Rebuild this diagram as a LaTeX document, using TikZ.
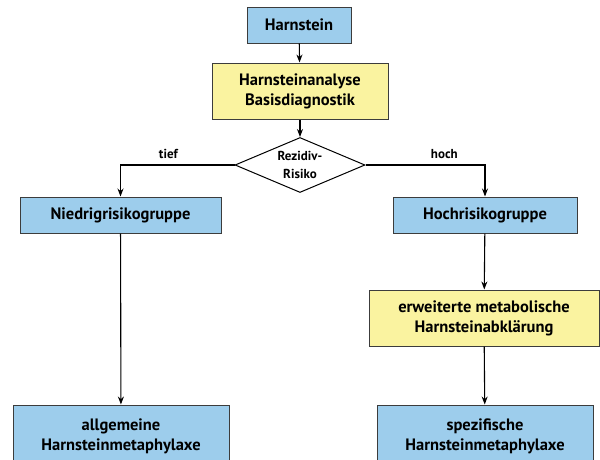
\documentclass[tikz,border=0pt]{standalone}
\usepackage{fontspec}
\setmainfont{PT Sans}
\usetikzlibrary{shapes.geometric,arrows.meta}
\definecolor{boxblue}{RGB}{157,205,236}
\definecolor{boxyellow}{RGB}{250,243,160}
\definecolor{edge}{RGB}{60,60,60}
\tikzset{
  base/.style={draw=edge, line width=1pt, align=center, font=\bfseries\fontsize{16.5}{20}\selectfont, inner sep=0pt},
  bluebox/.style={base, fill=boxblue},
  yellowbox/.style={base, fill=boxyellow},
  decision/.style={diamond, draw=black, line width=1pt, fill=white, aspect=2.36, minimum width=130pt, minimum height=55pt, inner sep=0pt, align=center, font=\bfseries\fontsize{13}{18}\selectfont},
  conn/.style={line width=1.1pt, -{Stealth[length=8pt,width=6pt]}},
  lbl/.style={font=\bfseries\fontsize{13}{15}\selectfont, inner sep=1pt}
}
\begin{document}
\begin{tikzpicture}[x=1pt,y=-1pt]
\useasboundingbox (0,0) rectangle (600,459);
\node[bluebox, minimum width=104pt, minimum height=36pt] (h) at (299,25) {Harnstein};
\node[yellowbox, minimum width=176pt, minimum height=56pt] (a) at (300,91) {Harnsteinanalyse\\Basisdiagnostik};
\node[decision] (d) at (300,165) {Rezidiv-\\Risiko};
\node[bluebox, minimum width=201pt, minimum height=36pt] (n) at (120.5,215) {Niedrigrisikogruppe};
\node[bluebox, minimum width=184pt, minimum height=36pt] (k) at (485,215) {Hochrisikogruppe};
\node[yellowbox, minimum width=230pt, minimum height=56pt] (e) at (484,318) {erweiterte metabolische\\Harnsteinabklärung};
\node[bluebox, minimum width=216pt, minimum height=62pt] (g) at (121,436) {allgemeine\\Harnsteinmetaphylaxe};
\node[bluebox, minimum width=216pt, minimum height=62pt] (s) at (485,436) {spezifische\\Harnsteinmetaphylaxe};
\draw[conn] (h) -- (a);
\draw[conn] (a) -- (d);
\draw[conn] (d.west) -| node[lbl, pos=0.29, above=5pt] {tief} (n.north);
\draw[conn] (d.east) -| node[lbl, pos=0.33, above=5pt] {hoch} (k.north);
\draw[conn] (n) -- (g);
\draw[conn] (k) -- (e);
\draw[conn] (e) -- (s);
\end{tikzpicture}
\end{document}
